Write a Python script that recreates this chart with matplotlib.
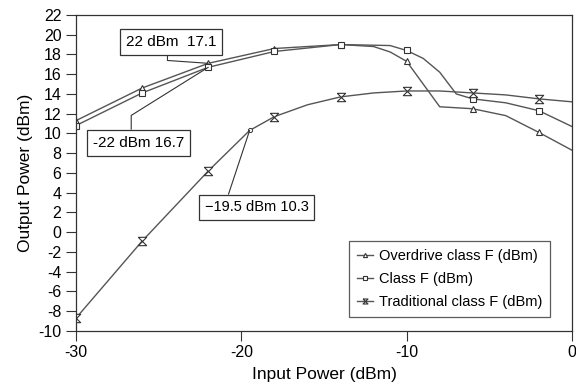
import matplotlib.pyplot as plt
from matplotlib.path import Path

plt.rcParams['font.family'] = ['Liberation Sans', 'DejaVu Sans']
plt.rcParams['axes.unicode_minus'] = False

# overdrive class F
od_x = [-30, -26, -22, -18, -14, -12, -11, -10, -9, -8, -6, -4, -2, 0]
od_y = [11.3, 14.6, 17.1, 18.6, 19.0, 18.8, 18.25, 17.3, 15.0, 12.7, 12.5, 11.8, 10.1, 8.3]
od_marks = [0, 1, 2, 3, 4, 7, 10, 12]

# class F
cf_x = [-30, -26, -22, -18, -14, -11, -10, -9, -8, -7, -6, -4, -2, 0]
cf_y = [10.8, 14.1, 16.7, 18.3, 19.0, 18.9, 18.4, 17.6, 16.2, 14.0, 13.5, 13.1, 12.3, 10.7]
cf_marks = [0, 1, 2, 3, 4, 6, 10, 12]

# traditional class F
tr_x = [-30, -26, -22, -19.5, -18, -16, -14, -12, -10, -8, -6, -4, -2, 0]
tr_y = [-8.7, -0.9, 6.2, 10.3, 11.7, 12.9, 13.7, 14.1, 14.3, 14.3, 14.1, 13.9, 13.5, 13.2]
tr_marks = [0, 1, 2, 4, 6, 8, 10, 12]

hourglass = Path([(-1, 1), (1, 1), (-1, -1), (1, -1), (-1, 1)])

fig = plt.figure(figsize=(5.76, 3.83), dpi=100)
ax = fig.add_axes([0.132, 0.136, 0.861, 0.825])

line_kw = dict(color='#555555', lw=1.0, mfc='white', mec='#333333', mew=0.8)
ax.plot(od_x, od_y, marker='^', ms=5, markevery=od_marks,
        label='Overdrive class F (dBm)', **line_kw)
ax.plot(cf_x, cf_y, marker='s', ms=5, markevery=cf_marks,
        label='Class F (dBm)', **line_kw)
ax.plot(tr_x, tr_y, marker=hourglass, ms=6, markevery=tr_marks,
        label='Traditional class F (dBm)', **line_kw)

# data cursor at -19.5 dBm
ax.plot([tr_x[3]], [tr_y[3]], 'o', ms=3, mfc='white', mec='#333333', mew=0.7)

ax.set_xlim(-30, 0)
ax.set_ylim(-10, 22)
ax.set_xticks([-30, -20, -10, 0])
ax.set_yticks(range(-10, 23, 2))
ax.tick_params(labelsize=11.5, length=7, width=0.8, colors='#333333',
               labelcolor='black')
for s in ax.spines.values():
    s.set_color('#333333')
    s.set_linewidth(0.9)

ax.set_xlabel('Input Power (dBm)', fontsize=12.5, labelpad=5)
ax.set_ylabel('Output Power (dBm)', fontsize=12.5, labelpad=4)

box = dict(boxstyle='square,pad=0.4', fc='white', ec='#333333', lw=0.9)
arrow = dict(arrowstyle='-', color='#333333', lw=0.8, shrinkA=0, shrinkB=0)
ax.annotate('22 dBm  17.1', xy=(-22, od_y[2]), xytext=(-24.25, 19.27),
            fontsize=11, ha='center', va='center', bbox=box,
            arrowprops=dict(relpos=(0.46, 0.0),
                            connectionstyle='angle,angleA=90,angleB=-4,rad=0', **arrow))
ax.annotate('-22 dBm 16.7', xy=(-22, cf_y[2]), xytext=(-26.22, 9.04),
            fontsize=11, ha='center', va='center', bbox=box,
            arrowprops=dict(relpos=(0.42, 1.0),
                            connectionstyle='angle,angleA=90,angleB=32,rad=0', **arrow))
ax.annotate('\u221219.5 dBm 10.3', xy=(-19.5, tr_y[3]), xytext=(-19.08, 2.5),
            fontsize=10.5, ha='center', va='center', bbox=box,
            arrowprops=dict(relpos=(0.21, 1.0), **arrow))

leg = ax.legend(loc='lower right', bbox_to_anchor=(0.956, 0.044), fontsize=10.5,
                frameon=True, fancybox=False, edgecolor='#333333',
                handlelength=1.1, markerscale=0.6, borderpad=0.55,
                labelspacing=0.6, handletextpad=0.4, borderaxespad=0)
leg.get_frame().set_linewidth(0.9)

fig.savefig('out.png', dpi=100)
